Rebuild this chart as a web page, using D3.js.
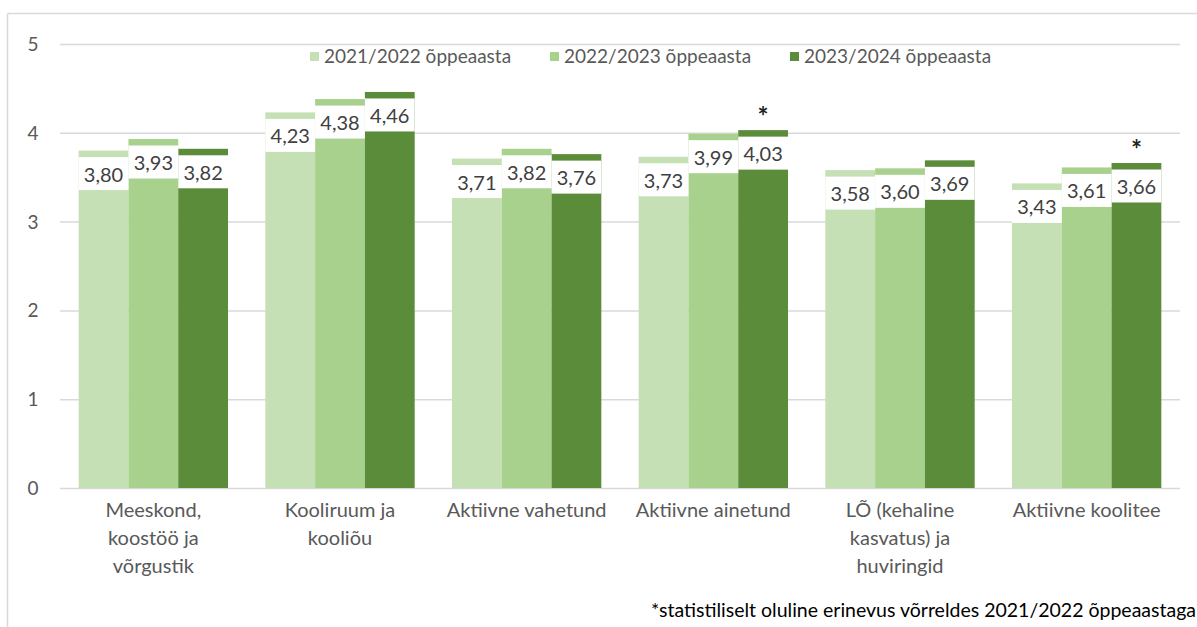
<!DOCTYPE html>
<html>
<head>
<meta charset="utf-8">
<script src="https://cdn.jsdelivr.net/npm/d3@7"></script>
<style>
  body { margin: 0; background: #fff; }
  text { font-family: Lato, "Open Sans", sans-serif; }
</style>
</head>
<body>
<svg id="chart" width="1197" height="627"></svg>
<script>
var categories = [
  "Meeskond,\nkoostöö ja\nvõrgustik",
  "Kooliruum ja\nkooliõu",
  "Aktiivne vahetund",
  "Aktiivne ainetund",
  "LÕ (kehaline\nkasvatus) ja\nhuviringid",
  "Aktiivne koolitee"
];
var seriesNames = ["2021/2022 õppeaasta", "2022/2023 õppeaasta", "2023/2024 õppeaasta"];
var values2122 = [3.80, 4.23, 3.71, 3.73, 3.58, 3.43];
var values2223 = [3.93, 4.38, 3.82, 3.99, 3.60, 3.61];
var values2324 = [3.82, 4.46, 3.76, 4.03, 3.69, 3.66];
var significant2324 = [false, false, false, true, false, true];
var yTicks = [0, 1, 2, 3, 4, 5];
var colors = ["#c5e0b4", "#a9d18e", "#5a8c3a"];
var footnote = "*statistiliselt oluline erinevus võrreldes 2021/2022 õppeaastaga";

var series = [values2122, values2223, values2324];

var svg = d3.select("#chart");

// chart border (top and left visible)
svg.append("line").attr("x1", 7.5).attr("x2", 1197).attr("y1", 13.5).attr("y2", 13.5)
  .attr("stroke", "#d9d9d9").attr("stroke-width", 1.5);
svg.append("line").attr("x1", 7.5).attr("x2", 7.5).attr("y1", 13.5).attr("y2", 627)
  .attr("stroke", "#d9d9d9").attr("stroke-width", 1.5);

var x0 = d3.scaleBand()
  .domain(d3.range(categories.length))
  .range([60, 1180])
  .paddingInner(0.2)
  .paddingOuter(0.1);

var x1 = d3.scaleBand()
  .domain(d3.range(series.length))
  .range([0, x0.bandwidth()]);

var y = d3.scaleLinear().domain([0, 5]).range([488, 44]);

// gridlines
svg.append("g").selectAll("line")
  .data(yTicks)
  .enter().append("line")
  .attr("x1", 60).attr("x2", 1180)
  .attr("y1", function (d) { return y(d) + 0.5; })
  .attr("y2", function (d) { return y(d) + 0.5; })
  .attr("stroke", "#d9d9d9").attr("stroke-width", 1.5);

// y tick labels
svg.append("g").selectAll("text")
  .data(yTicks)
  .enter().append("text")
  .attr("x", 33).attr("y", function (d) { return y(d) + 7; })
  .attr("text-anchor", "middle")
  .attr("font-size", 19).attr("fill", "#595959")
  .text(function (d) { return d; });

// bars
var groups = svg.append("g").selectAll("g")
  .data(categories)
  .enter().append("g")
  .attr("transform", function (d, i) { return "translate(" + x0(i) + ",0)"; });

groups.selectAll("rect.bar")
  .data(function (d, i) { return series.map(function (s, k) { return { k: k, v: s[i] }; }); })
  .enter().append("rect")
  .attr("class", "bar")
  .attr("x", function (d) { return x1(d.k); })
  .attr("width", x1.bandwidth())
  .attr("y", function (d) { return y(d.v); })
  .attr("height", function (d) { return y(0) - y(d.v); })
  .attr("fill", function (d) { return colors[d.k]; });

// data labels with white background
groups.selectAll("rect.lbl")
  .data(function (d, i) { return series.map(function (s, k) { return { k: k, v: s[i] }; }); })
  .enter().append("rect")
  .attr("class", "lbl")
  .attr("x", function (d) { return x1(d.k); })
  .attr("width", x1.bandwidth())
  .attr("y", function (d) { return y(d.v) + 6.5; })
  .attr("height", 33)
  .attr("fill", "#fff");

groups.selectAll("text.val")
  .data(function (d, i) { return series.map(function (s, k) { return { k: k, v: s[i] }; }); })
  .enter().append("text")
  .attr("class", "val")
  .attr("x", function (d) { return x1(d.k) + x1.bandwidth() / 2; })
  .attr("y", function (d) { return y(d.v) + 31; })
  .attr("text-anchor", "middle")
  .attr("font-size", 20).attr("fill", "#404040")
  .text(function (d) { return d.v.toFixed(2).replace(".", ","); });

// significance stars
groups.filter(function (d, i) { return significant2324[i]; })
  .append("text")
  .attr("x", x1(2) + x1.bandwidth() / 2)
  .attr("y", function (d) {
    var idx = categories.indexOf(d);
    return y(values2324[idx]) - 4;
  })
  .attr("text-anchor", "middle")
  .attr("font-size", 26).attr("font-weight", "bold").attr("fill", "#222")
  .text("*");

// category labels
svg.append("g").selectAll("text")
  .data(categories)
  .enter().append("text")
  .attr("x", function (d, i) { return x0(i) + x0.bandwidth() / 2; })
  .attr("y", 517)
  .attr("text-anchor", "middle")
  .attr("font-size", 20).attr("fill", "#595959")
  .each(function (d) {
    var t = d3.select(this);
    d.split("\n").forEach(function (line, j) {
      t.append("tspan").attr("x", t.attr("x")).attr("dy", j === 0 ? 0 : 28).text(line);
    });
  });

// legend
var legendX = [310, 550, 790];
var legend = svg.append("g").selectAll("g")
  .data(seriesNames)
  .enter().append("g")
  .attr("transform", function (d, i) { return "translate(" + legendX[i] + ",57)"; });
legend.append("rect").attr("x", 0).attr("y", -5).attr("width", 9).attr("height", 9)
  .attr("fill", function (d, i) { return colors[i]; });
legend.append("text").attr("x", 14).attr("y", 6)
  .attr("font-size", 19).attr("fill", "#595959")
  .text(function (d) { return d; });

// footnote
svg.append("text")
  .attr("x", 1196).attr("y", 617)
  .attr("text-anchor", "end")
  .attr("font-size", 19.5).attr("fill", "#000")
  .text(footnote);
</script>
</body>
</html>
